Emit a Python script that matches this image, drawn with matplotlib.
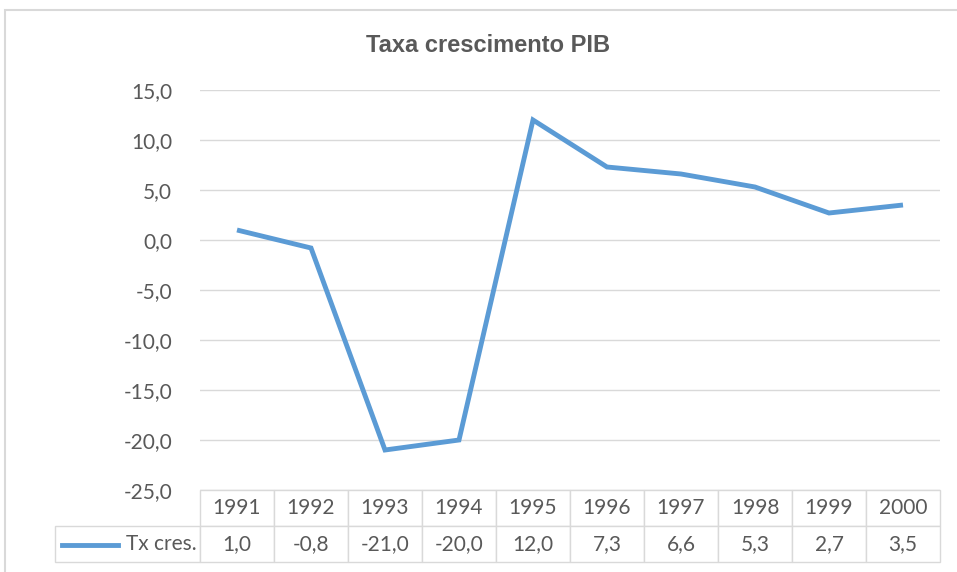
import matplotlib.pyplot as plt
from matplotlib.patches import Rectangle
from matplotlib.ticker import FuncFormatter

# dados do grafico
anos = ["1991", "1992", "1993", "1994", "1995", "1996", "1997", "1998", "1999", "2000"]
tx_cres = [1.0, -0.8, -21.0, -20.0, 12.0, 7.3, 6.6, 5.3, 2.7, 3.5]
serie_nome = "Tx cres."
titulo = "Taxa crescimento PIB"

azul = "#5b9bd5"
cinza_txt = "#595959"
cinza_linha = "#d9d9d9"

plt.rcParams['font.family'] = ['Lato', 'DejaVu Sans']

fig = plt.figure(figsize=(9.57, 5.72), dpi=100)
fig.patch.set_facecolor("white")

# moldura do grafico (estilo Excel)
fig.patches.append(Rectangle((5 / 957, -0.1), 1.2, (562 / 572) + 0.1,
                             transform=fig.transFigure, fill=False,
                             edgecolor=cinza_linha, linewidth=1.5))

ax = fig.add_axes([200 / 957, 82 / 572, 740 / 957, 400 / 572])
x = list(range(len(anos)))
ax.plot(x, tx_cres, color=azul, linewidth=3.5, solid_capstyle="butt",
        solid_joinstyle="miter")
ax.set_xlim(-0.5, len(anos) - 0.5)
ax.set_ylim(-25, 15)
ax.set_yticks(range(-25, 16, 5))
ax.yaxis.set_major_formatter(FuncFormatter(lambda v, p: f"{v:.1f}".replace(".", ",")))
ax.set_xticks([])
ax.tick_params(axis="y", length=0, pad=20, labelsize=15, labelcolor=cinza_txt)
for s in ax.spines.values():
    s.set_visible(False)
ax.grid(axis="y", color=cinza_linha, linewidth=1)
ax.set_axisbelow(True)

fig.text(488 / 957, 1 - 45 / 572, titulo, ha="center", va="center",
         fontsize=17, fontweight="bold", color=cinza_txt,
         family=["Liberation Sans Narrow", "Liberation Sans", "DejaVu Sans"])

# tabela de dados
celulas = [[""] + anos,
           [serie_nome] + [f"{v:.1f}".replace(".", ",") for v in tx_cres]]
larg = [145 / 885] + [74 / 885] * len(anos)
tab = ax.table(cellText=celulas, colWidths=larg, cellLoc="center",
               bbox=[-145 / 740, -72 / 400, 885 / 740, 72 / 400])
tab.auto_set_font_size(False)
for (r, c), cell in tab.get_celld().items():
    cell.set_edgecolor(cinza_linha)
    cell.set_linewidth(1)
    cell.get_text().set_fontsize(15)
    cell.get_text().set_color(cinza_txt)
    if r == 0 and c == 0:
        cell.visible_edges = ""
    if r == 1 and c == 0:
        cell.get_text().set_ha("right")
        cell.PAD = 0.02

# chave da legenda na tabela
ax.plot([-138 / 740, -82 / 740], [-55 / 400, -55 / 400], color=azul,
        linewidth=3.5, transform=ax.transAxes, clip_on=False)

fig.savefig("out.png", dpi=100)
